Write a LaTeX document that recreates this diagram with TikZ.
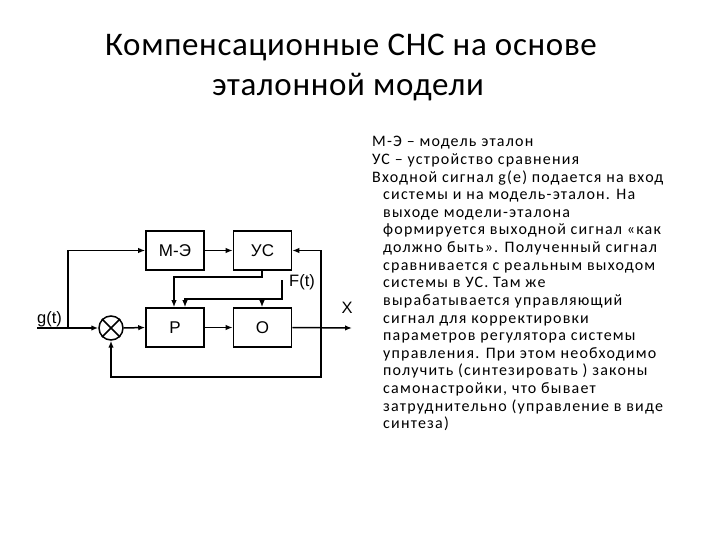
\documentclass[tikz,border=0pt]{standalone}
\usepackage{fontspec}
\setmainfont{Carlito}
\newfontfamily\arialf{Liberation Sans}
\usetikzlibrary{arrows.meta}
\begin{document}
\begin{tikzpicture}[x=1bp,y=-1bp,
  blk/.style={draw,line width=1.6pt,minimum width=58bp,minimum height=39bp,inner sep=0pt,font=\arialf\fontsize{17bp}{19bp}\selectfont},
  wire/.style={line width=1.5pt},
  arr/.style={wire,-{Latex[length=7pt,width=5.5pt]}},
  lbl/.style={font=\arialf\fontsize{16.5bp}{19bp}\selectfont,inner sep=0pt},
  body/.style={anchor=base west,inner sep=0pt,font=\fontsize{16bp}{18bp}\selectfont\addfontfeature{LetterSpace=7.5}}]
\useasboundingbox (0,0) rectangle (720,540);
\fill[white] (0,0) rectangle (720,540);
% title
\node[inner sep=0pt,anchor=base,font=\fontsize{33bp}{40bp}\selectfont\addfontfeature{LetterSpace=2}] (t1) at (351,56) {Компенсационные СНС на основе};
\node[inner sep=0pt,anchor=base,font=\fontsize{33bp}{40bp}\selectfont\addfontfeature{LetterSpace=2}] (t2) at (348,96) {эталонной модели};
% blocks
\node[blk] (me) at (175,250.5) {М-Э};
\node[blk] (us) at (262.5,250.5) {УС};
\node[blk] (p) at (175,327.5) {Р};
\node[blk] (o) at (262.5,327.5) {О};
\node[draw,circle,line width=1.5pt,minimum size=24bp,inner sep=0pt] (sum) at (111,328) {};
\draw[wire] (sum.north west) -- (sum.south east) (sum.north east) -- (sum.south west);
% coordinates
\coordinate (gin) at (37,328);
\coordinate (br) at (68,328);
\coordinate (brt) at (68,250.5);
\coordinate (xout) at (352,328);
\coordinate (fb) at (321,328);
\coordinate (fbt) at (321,250.5);
\coordinate (fbb) at (321,377);
\coordinate (sb) at (111,377);
\coordinate (u1) at (262,277);
\coordinate (u2) at (174,277);
\coordinate (f0) at (282,280);
\coordinate (f1) at (282,299);
\coordinate (f2) at (185,299);
\coordinate (f3) at (262,299);
% labels
\node[lbl,anchor=base west] (g) at (37,323) {g(t)};
\node[lbl,anchor=base west] (ft) at (289,287) {F(t)};
\node[lbl,anchor=base] (x) at (347,313) {X};
% wires
\draw[arr] (gin) -- (sum.west);
\draw[arr] (br) -- (brt) -- (me.west);
\draw[arr] (me.east) -- (us.west);
\draw[arr] (sum.east) -- (p.west);
\draw[arr] (p.east) -- (o.west);
\draw[arr] (o.east) -- (xout);
\draw[arr] (fb) -- (fbt) -- (us.east);
\draw[arr] (fb) -- (fbb) -- (sb) -- (sum.south);
\draw[arr] (us.south -| u1) -- (u1) -- (u2) -- (p.north -| u2);
\draw[arr] (f0) -- (f1) -- (f2) -- (p.north -| f2);
\draw[arr] (f3) -- (o.north -| f3);
% body text
\node[body] (l1) at (372,147) {М-Э – модель эталон};
\node[body] (l2) at (372,164.6) {УС – устройство сравнения};
\node[body] (l3) at (372,182.2) {Входной сигнал g(e) подается на вход};
\node[body] (l4) at (383,199.8) {системы и на модель-эталон. На};
\node[body] (l5) at (383,217.4) {выходе модели-эталона};
\node[body] (l6) at (383,235) {формируется выходной сигнал «как};
\node[body] (l7) at (383,252.6) {должно быть». Полученный сигнал};
\node[body] (l8) at (383,270.2) {сравнивается с реальным выходом};
\node[body] (l9) at (383,287.8) {системы в УС. Там же};
\node[body] (l10) at (383,305.4) {вырабатывается управляющий};
\node[body] (l11) at (383,323) {сигнал для корректировки};
\node[body] (l12) at (383,340.6) {параметров регулятора системы};
\node[body] (l13) at (383,358.2) {управления. При этом необходимо};
\node[body] (l14) at (383,375.8) {получить (синтезировать ) законы};
\node[body] (l15) at (383,393.4) {самонастройки, что бывает};
\node[body] (l16) at (383,411) {затруднительно (управление в виде};
\node[body] (l17) at (383,428.6) {синтеза)};
\end{tikzpicture}
\end{document}
